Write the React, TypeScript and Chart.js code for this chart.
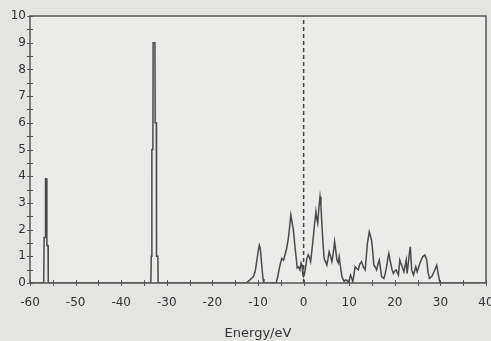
import React, { useEffect, useRef } from "react";
import { Chart, registerables } from "chart.js";

Chart.register(...registerables);

// Energy (eV) and density of states
const energy: number[] = [
  -60, -57.0, -56.9, -56.65, -56.6, -56.35, -56.3, -56.05, -56.0,
  -33.5, -33.4, -33.3, -33.25, -33.05, -33.0, -32.6, -32.55, -32.3, -32.25, -31.95, -31.9,
  -12.6, -12.0, -11.4, -11.0, -10.6, -10.2, -9.9, -9.7, -9.5, -9.2, -8.9, -8.7,
  -6.0, -5.6, -5.2, -4.8, -4.4, -4.1, -3.7, -3.35, -3.0, -2.8, -2.55, -2.25, -1.9, -1.6, -1.4, -1.1,
  -0.8, -0.55, -0.35, -0.15, 0, 0.2, 0.4, 0.7, 1.0, 1.3, 1.55, 1.8, 2.1, 2.4, 2.7, 2.9, 3.1, 3.35,
  3.6, 3.8, 4.0, 4.25, 4.5, 4.8, 5.1, 5.35, 5.6, 5.9, 6.2, 6.5, 6.8, 7.0, 7.3, 7.6, 7.8, 8.1, 8.4,
  8.9, 9.2, 9.5, 9.8, 10.3, 10.8, 11.3, 11.6, 12.0, 12.3, 12.7, 13.1, 13.5, 14.0, 14.4, 14.6, 14.9,
  15.2, 15.4, 15.7, 16.0, 16.3, 16.6, 16.9, 17.1, 17.6, 17.9, 18.2, 18.5, 18.7, 18.9, 19.1, 19.4,
  19.7, 20.0, 20.3, 20.8, 21.1, 21.3, 21.5, 22.0, 22.5, 22.7, 23.0, 23.2, 23.4, 23.7, 24.1, 24.6,
  24.9, 25.5, 26.1, 26.6, 27.0, 27.3, 27.6, 28.1, 28.6, 29.2, 29.5, 29.9, 40,
];

const dos: number[] = [
  0, 0, 1.7, 1.7, 3.9, 3.9, 1.4, 1.4, 0,
  0, 1.0, 1.0, 5.0, 5.0, 9.0, 9.0, 6.0, 6.0, 1.0, 1.0, 0,
  0, 0.08, 0.18, 0.24, 0.45, 0.9, 1.25, 1.42, 1.3, 0.7, 0.15, 0,
  0, 0.3, 0.65, 0.92, 0.85, 1.05, 1.3, 1.67, 2.2, 2.55, 2.3, 2.0, 1.36, 0.9, 0.56, 0.6,
  0.49, 0.75, 0.67, 0.3, 0.24, 0.35, 0.55, 0.9, 1.05, 0.95, 0.8, 1.2, 1.67, 2.2, 2.67, 2.4, 2.24, 2.8,
  3.23, 2.9, 2.24, 1.5, 0.92, 0.8, 0.67, 0.9, 1.17, 1.0, 0.8, 1.1, 1.55, 1.3, 0.86, 0.75, 0.98, 0.6, 0.24,
  0.05, 0.12, 0.1, 0, 0.3, 0.05, 0.61, 0.55, 0.49, 0.7, 0.8, 0.6, 0.49, 1.49, 1.92, 1.8, 1.61,
  1.1, 0.67, 0.6, 0.49, 0.7, 0.86, 0.5, 0.24, 0.17, 0.35, 0.61, 0.95, 1.11, 0.9, 0.74, 0.5,
  0.36, 0.45, 0.49, 0.3, 0.86, 0.75, 0.67, 0.42, 0.86, 0.36, 0.8, 1.11, 1.36, 0.49, 0.3, 0.61,
  0.42, 0.74, 0.98, 1.05, 0.86, 0.4, 0.17, 0.24, 0.42, 0.67, 0.36, 0, 0,
];

// Fermi level marker
const fermiX: number[] = [0, 0];
const fermiY: number[] = [0, 10];

const xRange: number[] = [-60, 40];
const yRange: number[] = [0, 10];
const xAxisTitle = "Energy/eV";

const frame = {
  id: "frame",
  beforeDraw(chart: any) {
    const { ctx, chartArea } = chart;
    ctx.save();
    ctx.fillStyle = "#e4e4e2";
    ctx.fillRect(0, 0, chart.width, chart.height);
    ctx.fillStyle = "#ebebea";
    ctx.fillRect(chartArea.left, chartArea.top, chartArea.right - chartArea.left, chartArea.bottom - chartArea.top);
    ctx.restore();
  },
  afterDraw(chart: any) {
    const { ctx, chartArea } = chart;
    const { left, right, top, bottom } = chartArea;
    const xs = chart.scales.x;
    const ys = chart.scales.y;
    ctx.save();
    ctx.strokeStyle = "#555";
    ctx.lineWidth = 1.5;
    ctx.strokeRect(left, top, right - left, bottom - top);
    ctx.lineWidth = 1;
    ctx.beginPath();
    xs.ticks.forEach((t: any) => {
      const px = Math.round(xs.getPixelForValue(t.value)) + 0.5;
      ctx.moveTo(px, bottom - 3);
      ctx.lineTo(px, bottom + 3);
    });
    ys.ticks.forEach((t: any) => {
      const py = Math.round(ys.getPixelForValue(t.value)) + 0.5;
      ctx.moveTo(left - 3, py);
      ctx.lineTo(left + 3, py);
    });
    ctx.stroke();
    ctx.restore();
  },
};

export default function App() {
  const ref = useRef<HTMLCanvasElement | null>(null);
  useEffect(() => {
    document.body.style.margin = "0";
    const canvas = ref.current;
    if (!canvas) return;
    const chart = new Chart(canvas, {
      type: "line",
      data: {
        datasets: [
          {
            data: energy.map((e, i) => ({ x: e, y: dos[i] })),
            borderColor: "#4a4a4a",
            borderWidth: 1.5,
            pointRadius: 0,
            tension: 0,
            fill: false,
          },
          {
            data: fermiX.map((e, i) => ({ x: e, y: fermiY[i] })),
            borderColor: "#444",
            borderWidth: 1.5,
            borderDash: [4, 3],
            pointRadius: 0,
            fill: false,
          },
        ],
      },
      options: {
        animation: false,
        responsive: false,
        maintainAspectRatio: false,
        layout: { padding: { top: 16, right: 5, left: 0, bottom: 0 } },
        plugins: { legend: { display: false }, tooltip: { enabled: false } },
        scales: {
          x: {
            type: "linear",
            min: xRange[0],
            max: xRange[1],
            afterFit: (s: any) => {
              s.height = 58;
              s.paddingLeft = 0;
              s.paddingRight = 0;
            },
            ticks: {
              stepSize: 5,
              autoSkip: false,
              maxRotation: 0,
              padding: 13,
              color: "#333",
              font: { family: "DejaVu Sans", size: 12 },
              callback: (v: any) => (Number(v) % 10 === 0 ? String(v) : ""),
            },
            grid: { display: true, drawOnChartArea: false, drawTicks: false },
            border: { display: false },
            title: {
              display: true,
              text: xAxisTitle,
              color: "#333",
              font: { family: "DejaVu Sans", size: 13 },
              padding: { top: 0, bottom: 0 },
            },
          },
          y: {
            min: yRange[0],
            max: yRange[1],
            afterFit: (s: any) => {
              s.width = 30;
              s.paddingTop = 0;
              s.paddingBottom = 0;
            },
            ticks: {
              stepSize: 0.5,
              autoSkip: false,
              padding: 4,
              color: "#333",
              font: { family: "DejaVu Sans", size: 12 },
              callback: (v: any) => (Number.isInteger(Number(v)) ? String(v) : ""),
            },
            grid: { display: true, drawOnChartArea: false, drawTicks: false },
            border: { display: false },
          },
        },
      },
      plugins: [frame],
    });
    return () => chart.destroy();
  }, []);
  return (
    <div style={{ width: 491, height: 341 }}>
      <canvas ref={ref} width={491} height={341} style={{ display: "block", width: 491, height: 341 }} />
    </div>
  );
}
